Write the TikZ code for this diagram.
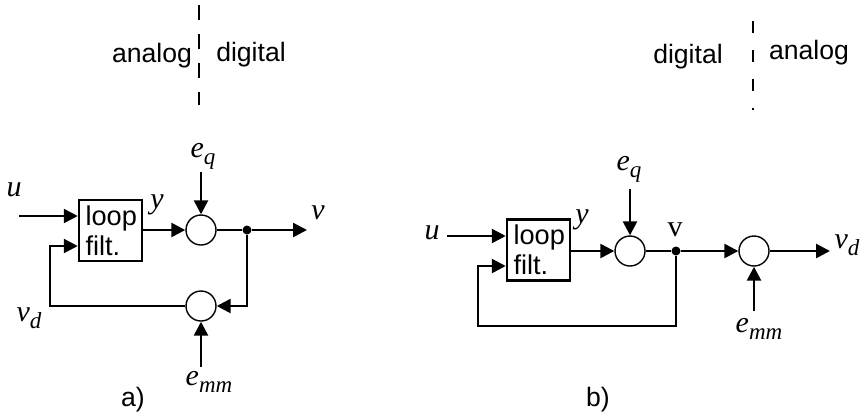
\documentclass[tikz,border=0pt]{standalone}
\usepackage{fontspec}
\setmainfont{Liberation Sans}
\newfontfamily\tnr{Liberation Serif}
\usetikzlibrary{arrows.meta}
\tikzset{
  loopbox/.style={rectangle, draw, line width=1.25pt, text width=25pt, align=left,
                  minimum height=30.5pt, inner xsep=3.25pt, inner ysep=0pt,
                  font=\fontsize{13.6}{15}\selectfont},
  summer/.style={circle, draw, line width=0.7pt, minimum size=15pt, inner sep=0pt},
  dotnode/.style={circle, fill, minimum size=4.5pt, inner sep=0pt},
  txt/.style={inner sep=0pt, font=\fontsize{13.3}{15}\selectfont},
  lbl/.style={inner sep=0pt, font=\fontsize{15}{17}\selectfont},
  wire/.style={line width=1.25pt},
  arr/.style={-{Triangle[length=7pt, width=7pt]}, line width=1.25pt},
  border/.style={line width=1.25pt}
}
\newcommand{\sig}[2]{{\tnr\itshape #1\raisebox{-3.5pt}{\fontsize{11.5}{13}\selectfont #2}}}

\begin{document}
\begin{tikzpicture}[x=0.5pt, y=-0.5pt]
\useasboundingbox (0,0) rectangle (865,419);
\node[txt] (ana) at (152,56) {analog};
\node[txt] (diga) at (251,55) {digital};
\draw[border, dash pattern=on 7.5pt off 7pt] (199,5) -- (199,105);
\node[loopbox] (lfa) at (110.5,230.5) {loop\\filt.};
\node[summer] (s1a) at (201,230) {};
\node[summer] (s2a) at (201,306) {};
\node[dotnode] (ja) at (247,230) {};
\coordinate (ua) at (19,216);
\coordinate (eqa) at (201,172);
\coordinate (va) at (307,230);
\coordinate (fba) at (50,246);
\coordinate (emma) at (201,367);
\node[lbl] (lua) at (14,193) {\sig{u}{}};
\node[lbl] (lya) at (157,205) {\sig{y}{}};
\node[lbl] (leqa) at (203,156) {\sig{e}{q}};
\node[lbl] (lva) at (318,216) {\sig{v}{}};
\node[lbl] (lvda) at (29,318) {\sig{v}{d}};
\node[lbl] (lemma) at (209,382) {\sig{e}{mm}};
\node[txt] (capa) at (133,400) {a)};
\draw[arr] (ua) -- (ua -| lfa.west);
\draw[arr] (lfa.east |- s1a) -- (s1a.west);
\draw[arr] (eqa) -- (s1a.north);
\draw[wire] (s1a.east) -- (ja);
\draw[arr] (ja) -- (va);
\draw[arr] (ja) |- (s2a.east);
\draw[arr] (s2a.west) -| (fba) -- (fba -| lfa.west);
\draw[arr] (emma) -- (s2a.south);
\node[txt] (digb) at (688,57) {digital};
\node[txt] (anb) at (809,53) {analog};
\draw[border, dash pattern=on 6pt off 8.5pt] (753,21) -- (753,110);
\node[loopbox] (lfb) at (538.5,250) {loop\\filt.};
\node[summer] (s1b) at (630,251) {};
\node[dotnode] (jb) at (676,251) {};
\node[summer] (s2b) at (754,251) {};
\coordinate (ub) at (447,236);
\coordinate (eqb) at (630,189);
\coordinate (vdb) at (830,251);
\coordinate (emmb) at (754,311);
\coordinate (fbb) at (478,326);
\coordinate (bkb) at (478,266);
\node[lbl] (lub) at (432,236) {\sig{u}{}};
\node[lbl] (lyb) at (582,220) {\sig{y}{}};
\node[lbl] (leqb) at (629,169) {\sig{e}{q}};
\node[lbl] (lvb) at (675,230) {\tnr v};
\node[lbl] (lvdb) at (847,245) {\sig{v}{d}};
\node[lbl] (lemmb) at (759,329) {\sig{e}{mm}};
\node[txt] (capb) at (598,400) {b)};
\draw[arr] (ub) -- (ub -| lfb.west);
\draw[arr] (lfb.east |- s1b) -- (s1b.west);
\draw[arr] (eqb) -- (s1b.north);
\draw[wire] (s1b.east) -- (jb);
\draw[arr] (jb) -- (s2b.west);
\draw[arr] (s2b.east) -- (vdb);
\draw[arr] (emmb) -- (s2b.south);
\draw[arr] (jb) |- (fbb) -- (bkb) -- (bkb -| lfb.west);
\end{tikzpicture}
\end{document}
